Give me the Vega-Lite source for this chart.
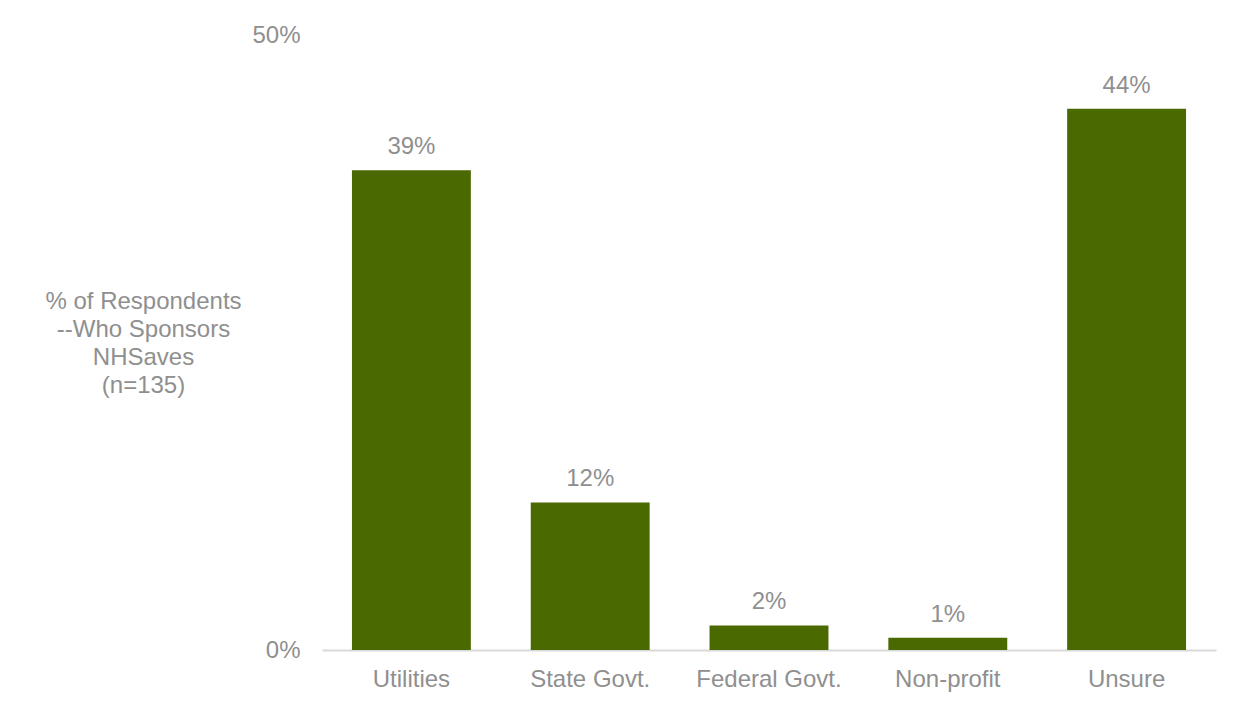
{
  "$schema": "https://vega.github.io/schema/vega-lite/v6.json",
  "width": 894,
  "height": 615,
  "autosize": {"type": "none"},
  "padding": {"left": 322, "top": 35, "right": 25, "bottom": 55},
  "background": "white",
  "config": {
    "view": {"stroke": null},
    "font": "Liberation Sans"
  },
  "data": {
    "values": [
      {"category": "Utilities", "value": 0.39},
      {"category": "State Govt.", "value": 0.12},
      {"category": "Federal Govt.", "value": 0.02},
      {"category": "Non-profit", "value": 0.01},
      {"category": "Unsure", "value": 0.44}
    ]
  },
  "encoding": {
    "x": {
      "field": "category",
      "type": "nominal",
      "sort": null,
      "scale": {"paddingInner": 0.335, "paddingOuter": 0.1675},
      "axis": {
        "title": null,
        "labelAngle": 0,
        "labelFontSize": 24,
        "labelColor": "#8f8f8f",
        "labelPadding": 17,
        "ticks": false,
        "domainColor": "#d9d9d9",
        "domainWidth": 2
      }
    },
    "y": {
      "field": "value",
      "type": "quantitative",
      "scale": {"domain": [0, 0.5]},
      "axis": {
        "values": [0, 0.5],
        "format": ".0%",
        "grid": false,
        "domain": false,
        "ticks": false,
        "labelFontSize": 24,
        "labelColor": "#8f8f8f",
        "labelPadding": 22,
        "title": ["% of Respondents", "--Who Sponsors", "NHSaves", "(n=135)"],
        "titleAngle": 0,
        "titleAlign": "center",
        "titleBaseline": "top",
        "titleX": -179,
        "titleY": 254,
        "titleFontSize": 24,
        "titleFontWeight": "normal",
        "titleColor": "#8f8f8f",
        "titleLineHeight": 28
      }
    }
  },
  "layer": [
    {"mark": {"type": "bar", "color": "#4a6900"}},
    {
      "mark": {"type": "text", "baseline": "bottom", "dy": -11, "fontSize": 24, "color": "#8f8f8f"},
      "encoding": {"text": {"field": "value", "type": "quantitative", "format": ".0%"}}
    }
  ]
}
